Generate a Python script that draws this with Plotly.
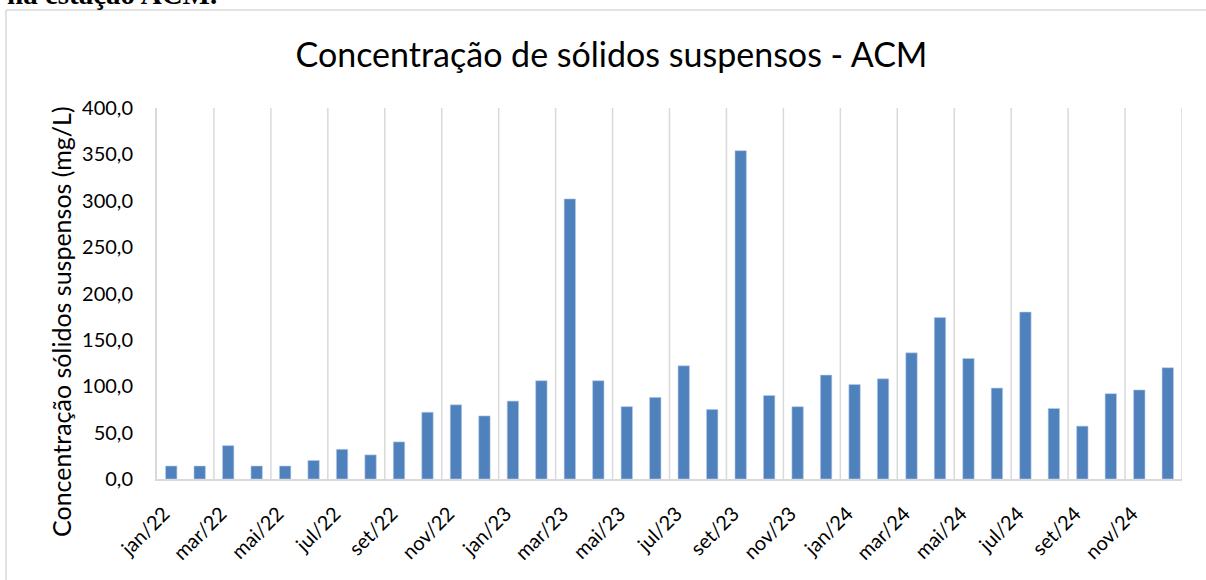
import plotly.graph_objects as go

months = ["jan/22","fev/22","mar/22","abr/22","mai/22","jun/22","jul/22","ago/22","set/22","out/22","nov/22","dez/22",
          "jan/23","fev/23","mar/23","abr/23","mai/23","jun/23","jul/23","ago/23","set/23","out/23","nov/23","dez/23",
          "jan/24","fev/24","mar/24","abr/24","mai/24","jun/24","jul/24","ago/24","set/24","out/24","nov/24","dez/24"]
sst = [14, 14, 36, 14, 14, 20, 32, 26, 40, 72, 80, 68,
       84, 106, 302, 106, 78, 88, 122, 75, 354, 90, 78, 112,
       102, 108, 136, 174, 130, 98, 180, 76, 57, 92, 96, 120]
tick_labels = months[::2]
y_ticks = [0, 50, 100, 150, 200, 250, 300, 350, 400]

W, H = 1206, 580
L, R, T, B = 157, 24, 108, 101
pw, ph = W - L - R, H - T - B

def px(xp):
    return (xp - L) / pw

def py(yp):
    return (H - B - yp) / ph

font = "Lato, Open Sans, sans-serif"

fig = go.Figure(go.Bar(
    x=months, y=sst,
    marker=dict(color="#4f81bd", line=dict(color="#b9cde5", width=0.6)),
    width=0.4,
))

shapes = []
# vertical gridlines every two months, at category boundaries
for k in range(1, len(months) // 2 + 1):
    shapes.append(dict(type="line", xref="x", yref="paper", x0=2 * k - 0.5, x1=2 * k - 0.5,
                       y0=0, y1=1, line=dict(color="#d9d9d9", width=1.5), layer="below"))
# outer frame (top and left visible)
shapes.append(dict(type="line", xref="paper", yref="paper", x0=px(6), x1=px(1210), y0=py(10), y1=py(10),
                   line=dict(color="#d9d9d9", width=1.5)))
shapes.append(dict(type="line", xref="paper", yref="paper", x0=px(6), x1=px(6), y0=py(10), y1=py(590),
                   line=dict(color="#d9d9d9", width=1.5)))

fig.update_layout(
    width=W, height=H,
    margin=dict(l=L, r=R, t=T, b=B),
    paper_bgcolor="white", plot_bgcolor="white",
    separators=",.",
    showlegend=False,
    shapes=shapes,
    title=dict(text="Concentração de sólidos suspensos - ACM", x=611.5 / W, xref="container", xanchor="center",
               y=1 - 55 / H, yref="container", yanchor="middle",
               font=dict(family=font, size=34, color="#000000")),
    annotations=[
        dict(text="<b>na estação ACM.</b>", xref="paper", yref="paper",
             x=px(5), y=py(-6), xanchor="left", yanchor="middle", showarrow=False,
             font=dict(family="Liberation Serif, serif", size=29, color="#000000")),
        dict(text="Concentração sólidos suspensos (mg/L)", xref="paper", yref="paper",
             x=px(61), y=py(322), xanchor="center", yanchor="middle", textangle=-90, showarrow=False,
             font=dict(family=font, size=25, color="#000000")),
    ],
    xaxis=dict(
        type="category", range=[-0.5, len(months) - 0.5],
        tickmode="array", tickvals=tick_labels,
        ticktext=[t + "\u00a0\u00a0" for t in tick_labels],
        tickangle=-45, showgrid=False, ticks="", ticklabelstandoff=6,
        showline=True, linecolor="#d9d9d9", linewidth=2,
        tickfont=dict(family=font, size=20, color="#000000"),
    ),
    yaxis=dict(
        range=[0, 400], tickvals=y_ticks, tickformat=".1f",
        showgrid=False, zeroline=False, ticks="", ticklabelstandoff=18,
        showline=True, linecolor="#d9d9d9", linewidth=2,
        tickfont=dict(family=font, size=20, color="#000000"),
    ),
    bargap=0.6,
)

fig.write_html("out.html", config={"displayModeBar": False},
               post_script="document.body.style.margin='0';")
